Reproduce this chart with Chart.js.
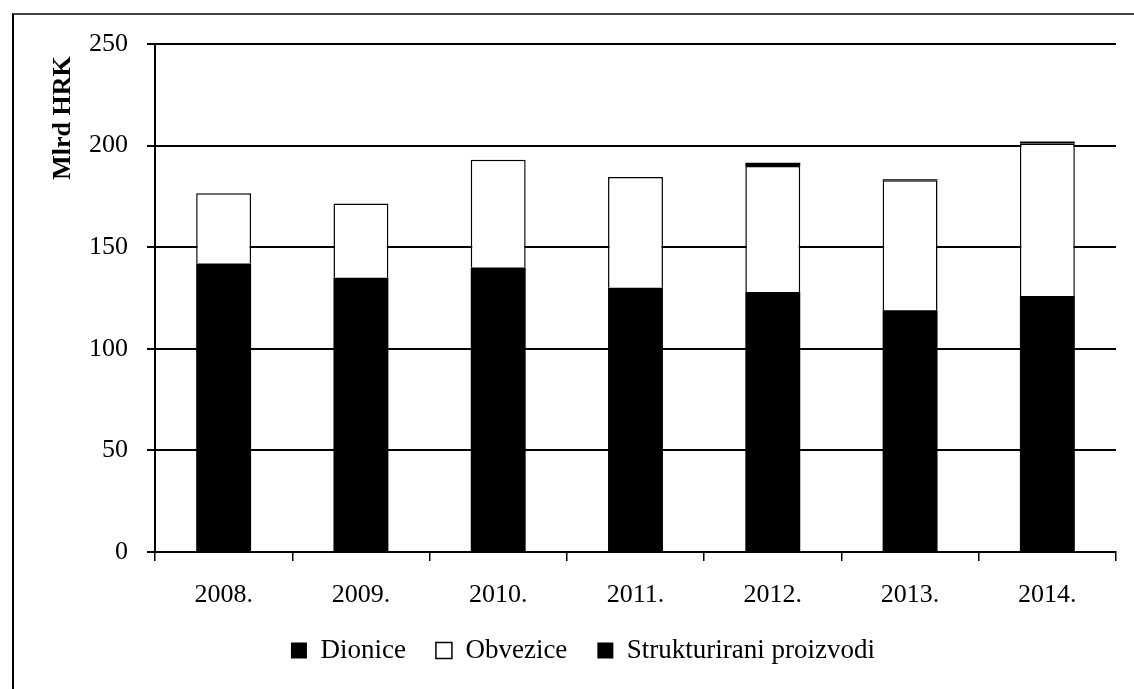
<!DOCTYPE html>
<html>
<head>
<meta charset="utf-8">
<script src="https://cdn.jsdelivr.net/npm/chart.js@4"></script>
<style>
  html, body { margin: 0; padding: 0; background: #fff; }
  #wrap { position: relative; width: 1134px; height: 689px; overflow: hidden; }
  #frame {
    position: absolute; left: 12px; top: 13px; width: 1200px; height: 700px;
    border-top: 2px solid #444; border-left: 2px solid #000;
    pointer-events: none;
  }
</style>
</head>
<body>
<div id="wrap">
  <canvas id="chart" width="1134" height="689"></canvas>
  <div id="frame"></div>
</div>
<script>
const years = ["2008.", "2009.", "2010.", "2011.", "2012.", "2013.", "2014."];
const dionice = [142, 135, 140, 130, 128, 119, 126];
const obvezice = [34.5, 36.5, 53, 54.5, 62, 64, 75];
const strukturirani = [0, 0, 0, 0, 1.5, 0.5, 1];
const yTitle = "Mlrd HRK";

const serif = "'Liberation Serif', 'Times New Roman', serif";

// y-axis title sits near the top, not centred on the axis
const yTitlePlugin = {
  id: "yTitle",
  afterDraw(c) {
    const ctx = c.ctx;
    ctx.save();
    ctx.translate(63, 118);
    ctx.rotate(-Math.PI / 2);
    ctx.font = "bold 26px " + serif;
    ctx.fillStyle = "#000";
    ctx.textAlign = "center";
    ctx.textBaseline = "middle";
    ctx.fillText(yTitle, 0, 0);
    ctx.restore();
  }
};

const PAD_LEFT = 50;

new Chart(document.getElementById("chart"), {
  type: "bar",
  data: {
    labels: years,
    datasets: [
      { label: "Dionice", data: dionice, backgroundColor: "#000", borderColor: "#000", borderWidth: 0 },
      { label: "Obvezice", data: obvezice, backgroundColor: "#fff", borderColor: "#000", borderWidth: 1.5 },
      { label: "Strukturirani proizvodi", data: strukturirani, backgroundColor: "#000", borderColor: "#000", borderWidth: 0 }
    ]
  },
  options: {
    responsive: false,
    animation: false,
    devicePixelRatio: 1,
    layout: { padding: { left: PAD_LEFT, right: 18, top: 44, bottom: 15 } },
    datasets: { bar: { categoryPercentage: 1, barPercentage: 0.4 } },
    plugins: {
      tooltip: { enabled: false },
      legend: {
        position: "bottom",
        labels: {
          color: "#000",
          font: { family: serif, size: 27 },
          boxWidth: 16,
          boxHeight: 16,
          padding: 30
        }
      }
    },
    scales: {
      x: {
        stacked: true,
        afterFit(scale) { scale.height = 55; },
        grid: { drawOnChartArea: false, drawTicks: true, tickLength: 9, color: "#000", lineWidth: 1.5 },
        border: { color: "#000", width: 2 },
        ticks: { color: "#000", font: { family: serif, size: 26 }, padding: 19 }
      },
      y: {
        stacked: true,
        min: 0,
        max: 250,
        afterFit(scale) { scale.width = 155 - PAD_LEFT; },
        grid: { color: "#000", lineWidth: 2, tickLength: 8 },
        border: { color: "#000", width: 2 },
        ticks: { stepSize: 50, color: "#000", font: { family: serif, size: 26 }, padding: 19 }
      }
    }
  },
  plugins: [yTitlePlugin]
});
</script>
</body>
</html>
